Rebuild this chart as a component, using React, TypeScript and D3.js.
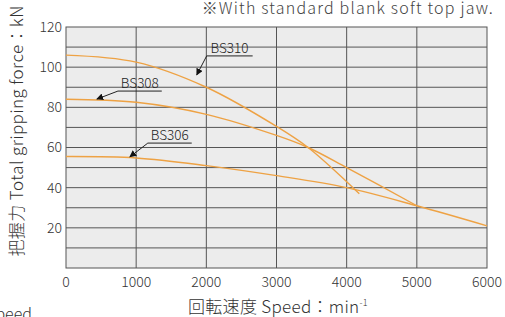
import React from "react";
import * as d3 from "d3";

const xTicks = [0, 1000, 2000, 3000, 4000, 5000, 6000];
const yTicks = [20, 40, 60, 80, 100, 120];
const yGrid = [10, 20, 30, 40, 50, 60, 70, 80, 90, 100, 110];

const bs310: [number, number][] = [
  [0, 106], [1000, 102.5], [2000, 90], [3000, 70.5], [3450, 60], [4000, 43], [4180, 37],
];
const bs308: [number, number][] = [
  [0, 84], [1000, 82.5], [2000, 76.5], [3000, 66], [3450, 60], [4000, 50], [5000, 31],
];
const bs306: [number, number][] = [
  [0, 55.5], [1000, 54.8], [2000, 51], [3000, 46], [4000, 40], [5000, 31], [6000, 21],
];

const seriesNames = ["BS310", "BS308", "BS306"];
// label: text center x, text baseline y, underline x0, x1, y, arrow tip x, y (data units)
const labelTextX = [2330, 1052, 1479];
const labelTextY = [107, 89.6, 63.7];
const underlineX0 = [2005, 740, 1166];
const underlineX1 = [2660, 1365, 1792];
const underlineY = [105.6, 88.1, 62.2];
const tipX = [1863, 440, 910];
const tipY = [96.1, 84.1, 55.3];

const W = 505;
const H = 317;
const left = 66;
const right = 487;
const top = 27;
const bottom = 268;

export default function App() {
  const x = d3.scaleLinear().domain([0, 6000]).range([left, right]);
  const y = d3.scaleLinear().domain([0, 120]).range([bottom, top]);
  const line = d3
    .line<[number, number]>()
    .x((d) => x(d[0]))
    .y((d) => y(d[1]))
    .curve(d3.curveCatmullRom.alpha(0.5));
  const series = [bs310, bs308, bs306];
  const font = "'Noto Sans CJK JP', 'Noto Sans', sans-serif";
  const gridColor = "#555";
  const orange = "#eea244";

  return (
    <svg
      width={W}
      height={H}
      style={{ position: "absolute", left: 0, top: 0, background: "#fff" }}
      fontFamily={font}
    >
      <defs>
        <marker
          id="arr"
          viewBox="0 0 10 10"
          refX="9"
          refY="5"
          markerWidth="7"
          markerHeight="7"
          orient="auto"
          markerUnits="userSpaceOnUse"
        >
          <path d="M0,0 L10,5 L0,10 z" fill="#111" />
        </marker>
      </defs>
      <rect x={left} y={top} width={right - left} height={bottom - top} fill="#ececec" />
      {yGrid.map((v) => (
        <line key={"h" + v} x1={left} x2={right} y1={y(v)} y2={y(v)} stroke={gridColor} strokeWidth={1} />
      ))}
      {xTicks.slice(1, -1).map((v) => (
        <line key={"v" + v} x1={x(v)} x2={x(v)} y1={top} y2={bottom} stroke={gridColor} strokeWidth={1} />
      ))}
      <rect x={left} y={top} width={right - left} height={bottom - top} fill="none" stroke={gridColor} strokeWidth={1} />

      {series.map((s, i) => (
        <path key={"s" + i} d={line(s) || ""} fill="none" stroke={orange} strokeWidth={1.4} />
      ))}

      {seriesNames.map((n, i) => (
        <g key={"lab" + i}>
          <text
            x={x(labelTextX[i])}
            y={y(labelTextY[i])}
            textAnchor="middle"
            fontSize={13.5}
            fontWeight={300}
            fill="#222"
          >
            {n}
          </text>
          <polyline
            points={`${x(underlineX1[i])},${y(underlineY[i])} ${x(underlineX0[i])},${y(underlineY[i])} ${x(tipX[i])},${y(tipY[i])}`}
            fill="none"
            stroke="#222"
            strokeWidth={1}
            markerEnd="url(#arr)"
          />
        </g>
      ))}

      {yTicks.map((v) => (
        <text key={"yt" + v} x={62} y={y(v)} dy="0.35em" textAnchor="end" fontSize={14} fontWeight={300} fill="#333">
          {v}
        </text>
      ))}
      {xTicks.map((v) => (
        <text key={"xt" + v} x={x(v)} y={287} textAnchor="middle" fontSize={14} fontWeight={300} fill="#333">
          {v}
        </text>
      ))}

      <text x={494} y={14} textAnchor="end" fontSize={16} letterSpacing={1.2} fontWeight={300} fill="#444">
        ※With standard blank soft top jaw.
      </text>

      <text
        transform={`translate(23, 131) rotate(-90)`}
        textAnchor="middle"
        fontSize={17}
        letterSpacing={0.4}
        fontWeight={300}
        fill="#333"
      >
        把握力  Total gripping force：kN
      </text>

      <text x={188} y={313} fontSize={17} letterSpacing={0.3} fontWeight={300} fill="#333">
        回転速度 Speed：min
        <tspan fontSize={9} dy={-7}>-1</tspan>
      </text>

      <text x={32} y={320} textAnchor="end" fontSize={16} fontWeight={300} fill="#333">
        Speed
      </text>
    </svg>
  );
}
